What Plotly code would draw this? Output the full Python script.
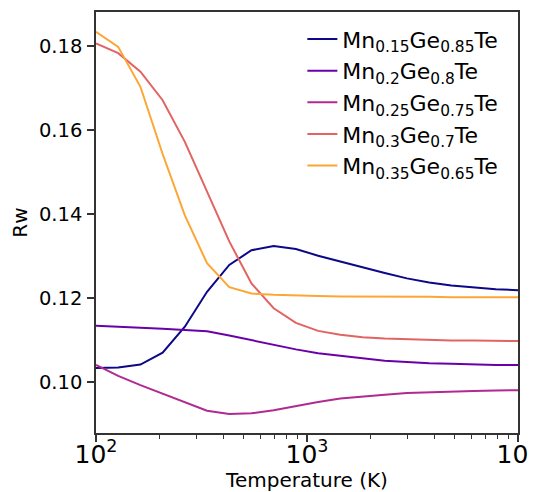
import numpy as np
import plotly.graph_objects as go

temperature = [100, 127.4, 162.4, 206.9, 263.7, 335.9, 428.1, 545.6, 695.2, 885.9,
               1128.8, 1438.4, 1832.9, 2335.7, 2976.4, 3792.7, 4832.9, 6158.5, 7847.6, 10000]

labels = ["Mn<sub>0.15</sub>Ge<sub>0.85</sub>Te",
          "Mn<sub>0.2</sub>Ge<sub>0.8</sub>Te",
          "Mn<sub>0.25</sub>Ge<sub>0.75</sub>Te",
          "Mn<sub>0.3</sub>Ge<sub>0.7</sub>Te",
          "Mn<sub>0.35</sub>Ge<sub>0.65</sub>Te"]

rw_015 = [0.1034, 0.1035, 0.1042, 0.1070, 0.1132, 0.1215, 0.1279, 0.1314, 0.1324, 0.1317,
          0.1301, 0.1287, 0.1274, 0.1260, 0.1247, 0.1237, 0.1230, 0.1226, 0.1221, 0.1219]
rw_020 = [0.1134, 0.1132, 0.1129, 0.1127, 0.1124, 0.1121, 0.1111, 0.1100, 0.1088, 0.1078,
          0.1069, 0.1063, 0.1056, 0.1051, 0.1048, 0.1045, 0.1044, 0.1042, 0.1041, 0.1041]
rw_025 = [0.1041, 0.1015, 0.0993, 0.0973, 0.0952, 0.0932, 0.0924, 0.0926, 0.0933, 0.0943,
          0.0953, 0.0961, 0.0966, 0.0970, 0.0974, 0.0976, 0.0978, 0.0979, 0.0980, 0.0981]
rw_030 = [0.1806, 0.1783, 0.1739, 0.1671, 0.1572, 0.1455, 0.1335, 0.1235, 0.1176, 0.1141,
          0.1122, 0.1113, 0.1107, 0.1104, 0.1102, 0.1100, 0.1099, 0.1099, 0.1098, 0.1098]
rw_035 = [0.1834, 0.1798, 0.1703, 0.1543, 0.1397, 0.1283, 0.1226, 0.1211, 0.1208, 0.1206,
          0.1205, 0.1204, 0.1204, 0.1203, 0.1203, 0.1203, 0.1202, 0.1202, 0.1202, 0.1202]

series = [rw_015, rw_020, rw_025, rw_030, rw_035]
colors = ["#0d0887", "#6a00a8", "#b12a90", "#e16462", "#fca636"]

FONT = "DejaVu Sans"

fig = go.Figure()
for lab, ys, c in zip(labels, series, colors):
    fig.add_trace(go.Scatter(x=temperature, y=ys, mode="lines", name=lab,
                             line=dict(color=c, width=2)))

# page body adds an 8px margin, so the figure is 8px smaller than the window
fig.update_layout(
    width=528, height=484,
    margin=dict(l=88, r=18, t=4, b=59),
    paper_bgcolor="white", plot_bgcolor="white",
    font=dict(family=FONT, size=20, color="black"),
    showlegend=True,
    legend=dict(x=0.489, y=0.985, xanchor="left", yanchor="top",
                bgcolor="rgba(255,255,255,0)", font=dict(family=FONT, size=22),
                tracegroupgap=0, itemwidth=30),
)

fig.update_xaxes(
    type="log", range=[2, 4], dtick=1, exponentformat="power",
    automargin=False, ticklabeloverflow="allow", ticklabelstandoff=-8,
    showgrid=False, zeroline=False,
    showline=True, linecolor="#333333", linewidth=1.5, mirror=True,
    ticks="outside", ticklen=7, tickwidth=1.5, tickcolor="#333333",
    tickfont=dict(family=FONT, size=20),
    minor=dict(ticks="outside", ticklen=4, tickwidth=1, tickcolor="#333333", showgrid=False),
    title=dict(text="Temperature (K)", font=dict(family=FONT, size=20), standoff=6),
)
fig.update_yaxes(
    range=[0.0879, 0.1881], tickvals=[0.10, 0.12, 0.14, 0.16, 0.18], tickformat=".2f",
    automargin=False, ticklabelstandoff=1,
    showgrid=False, zeroline=False,
    showline=True, linecolor="#333333", linewidth=1.5, mirror=True,
    ticks="outside", ticklen=7, tickwidth=1.5, tickcolor="#333333",
    tickfont=dict(family=FONT, size=19.5),
    title=dict(text="Rw", font=dict(family=FONT, size=20), standoff=12),
)

fig.write_html("out.html")
